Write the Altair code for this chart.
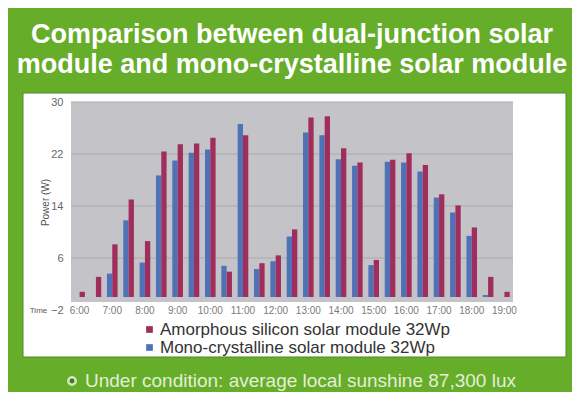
import altair as alt
import pandas as pd

times = ["6:00", "6:30", "7:00", "7:30", "8:00", "8:30", "9:00", "9:30",
         "10:00", "10:30", "11:00", "11:30", "12:00", "12:30", "13:00",
         "13:30", "14:00", "14:30", "15:00", "15:30", "16:00", "16:30",
         "17:00", "17:30", "18:00", "18:30", "19:00"]
mono = [0, 0, 3.6, 11.8, 5.3, 18.7, 21.0, 22.2, 22.7, 4.8, 26.6, 4.3, 5.5, 9.3,
        25.3, 24.9, 21.2, 20.2, 4.9, 20.8, 20.7, 19.3, 15.3, 13.0, 9.4, 0.3, 0]
amorph = [0.8, 3.1, 8.1, 15.0, 8.6, 22.4, 23.5, 23.6, 24.5, 3.9, 24.9, 5.2, 6.4,
          10.4, 27.6, 27.8, 22.9, 20.7, 5.7, 21.1, 22.1, 20.3, 15.8, 14.1, 10.7,
          3.1, 0.8]
series_names = ["Amorphous silicon solar module 32Wp",
                "Mono-crystalline solar module 32Wp"]
y_ticks = [-2, 6, 14, 22, 30]
grid_values = [6, 14, 22, 30]
title_lines = ["Comparison between dual-junction solar",
               "module and mono-crystalline solar module"]
footer = "Under condition: average local sunshine 87,300 lux"

GREEN = "#66ad2a"
BLUE = "#4f72b6"
MAROON = "#9f2e5d"

rows = []
for t, m, a in zip(times, mono, amorph):
    rows.append({"time": t, "series": series_names[1], "power": m})
    rows.append({"time": t, "series": series_names[0], "power": a})
df = pd.DataFrame(rows)
grid_df = pd.DataFrame({"v": grid_values})
one = pd.DataFrame({"k": [0]})

W, H = 442, 208

panel = alt.Chart(one).mark_rect(color="white", stroke="#4d8a22", strokeWidth=1).encode(
    x=alt.value(-48), x2=alt.value(495), y=alt.value(-9), y2=alt.value(255)
)
plotbg = alt.Chart(one).mark_rect(color="#c4c4c8").encode(
    x=alt.value(0), x2=alt.value(W), y=alt.value(0), y2=alt.value(200)
)
grid = alt.Chart(grid_df).mark_rule(color="#a9a9ae", strokeWidth=1).encode(
    y=alt.Y("v:Q")
)

bars = alt.Chart(df).mark_bar().encode(
    x=alt.X("time:O", sort=times,
            scale=alt.Scale(paddingInner=0.35, paddingOuter=0.2),
            axis=alt.Axis(title="Time", labelAngle=0, ticks=False, tickSize=0,
                          domain=False, grid=False, zindex=1,
                          labelBaseline="middle", labelPadding=0,
                          labelFontSize=10, labelColor="#7a7a7a",
                          labelFont="Liberation Sans",
                          labelExpr="indexof(datum.label, ':30') >= 0 ? '' : datum.label",
                          titleX=-33, titleY=0, titleBaseline="middle",
                          titleAlign="center", titleFontSize=8,
                          titleFontWeight="normal", titleColor="#555555",
                          titleFont="Liberation Sans", labelOverlap=False)),
    xOffset=alt.XOffset("series:N", sort=[series_names[1], series_names[0]]),
    y=alt.Y("power:Q", scale=alt.Scale(domain=[-2, 30], nice=False, zero=False),
            axis=alt.Axis(values=y_ticks, title="Power (W)", ticks=False,
                          domain=False, grid=False, zindex=1, labelPadding=8,
                          labelFontSize=11, labelColor="#666666",
                          labelFont="Liberation Sans",
                          titleX=-26, titleY=100, titleFontSize=10,
                          titleFontWeight="normal", titleColor="#555555",
                          titleFont="Liberation Sans", titleBaseline="middle")),
    y2=alt.datum(0),
    color=alt.Color("series:N", sort=series_names,
                    scale=alt.Scale(domain=series_names, range=[MAROON, BLUE]),
                    legend=alt.Legend(title=None, orient="none", legendX=70,
                                      legendY=219, symbolType="square",
                                      symbolSize=45, symbolStrokeWidth=0,
                                      labelFontSize=17, labelColor="#333333",
                                      labelFont="Liberation Sans", labelLimit=400,
                                      labelOffset=2, rowPadding=0, padding=0,
                                      zindex=1)),
)

bullet = alt.Chart(one).mark_point(shape="circle", filled=True, fill="#2f6b12",
                                   stroke="white", strokeWidth=2.5, size=55).encode(
    x=alt.value(1), y=alt.value(279)
)
foot = alt.Chart(one).mark_text(text=footer, fontSize=19, color="#e3efd6",
                                font="Liberation Sans", align="left",
                                baseline="middle").encode(
    x=alt.value(14), y=alt.value(279)
)

chart = alt.layer(panel, plotbg, grid, bars, bullet, foot).properties(
    width=W, height=H,
    autosize=alt.AutoSizeParams(type="none"),
    padding={"left": 63, "top": 94, "right": 59, "bottom": 82},
    background=GREEN,
    title=alt.TitleParams(text=title_lines, fontSize=27, fontWeight="bold",
                          color="white", font="Liberation Sans", anchor="middle",
                          offset=14, lineHeight=30),
).configure_view(stroke=None)

chart.save("out.html", embed_options={"renderer": "svg", "actions": False})
